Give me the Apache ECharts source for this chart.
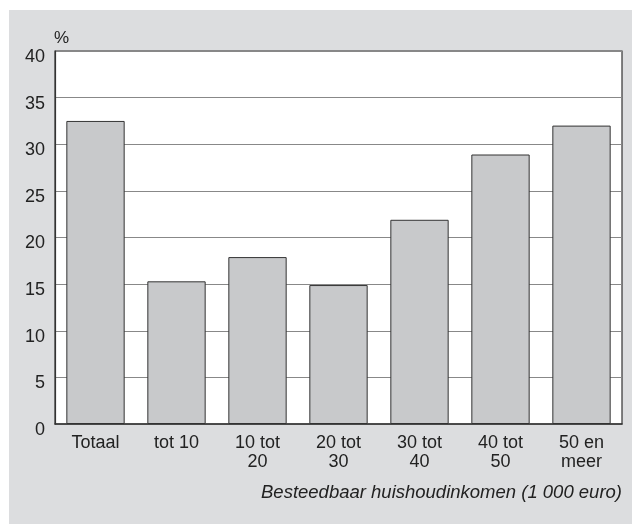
<!DOCTYPE html>
<html>
<head>
<meta charset="utf-8">
<script src="https://cdn.jsdelivr.net/npm/echarts@6/dist/echarts.min.js"></script>
<style>
html,body{margin:0;padding:0;background:#fff;}
#c{width:632px;height:524px;}
</style>
</head>
<body>
<div id="c"></div>
<script>
const categories = ['Totaal', 'tot 10', '10 tot\n20', '20 tot\n30', '30 tot\n40', '40 tot\n50', '50 en\nmeer'];
const values = [32.5, 15.3, 17.9, 14.9, 21.9, 28.9, 32.0];
const yMin = 0, yMax = 40, yStep = 5;
const unitLabel = '%';
const xTitle = 'Besteedbaar huishoudinkomen (1 000 euro)';

const font = '"Liberation Sans", Arial, Helvetica, sans-serif';
const chart = echarts.init(document.getElementById('c'), null, {renderer: 'canvas'});
chart.setOption({
  animation: false,
  backgroundColor: '#ffffff',
  grid: {
    left: 55, right: 10, top: 51, bottom: 100,
    show: true, backgroundColor: '#ffffff', borderColor: '#333', borderWidth: 1.2,
    containLabel: false
  },
  graphic: [
    {type: 'rect', z: -10, silent: true, shape: {x: 9, y: 10, width: 632, height: 524}, style: {fill: '#dcdddf'}},
    {type: 'text', left: 54, top: 30, style: {text: unitLabel, font: '17px ' + font, fill: '#222'}},
    {type: 'text', z: 10, style: {x: 622, y: 493, text: xTitle, font: 'italic 18.5px ' + font, fill: '#222', align: 'right', verticalAlign: 'middle'}}
  ],
  xAxis: {
    type: 'category',
    data: categories,
    axisLine: {show: true, lineStyle: {color: '#333', width: 1.5}},
    axisTick: {show: false},
    axisLabel: {color: '#222', fontSize: 18, fontFamily: font, margin: 10, lineHeight: 19, interval: 0}
  },
  yAxis: {
    type: 'value',
    min: yMin, max: yMax, interval: yStep,
    axisLine: {show: true, lineStyle: {color: '#333', width: 1.2}},
    axisTick: {show: false},
    splitLine: {show: true, lineStyle: {color: '#888', width: 1.2}},
    axisLabel: {
      margin: 10,
      formatter: '{v|{value}}',
      rich: {v: {color: '#222', fontSize: 18, fontFamily: font, padding: [12, 0, 0, 0]}}
    }
  },
  series: [{
    type: 'bar',
    data: values,
    barWidth: '72%',
    itemStyle: {color: '#c8c9cb', borderColor: '#333', borderWidth: 1}
  }]
});
</script>
</body>
</html>
